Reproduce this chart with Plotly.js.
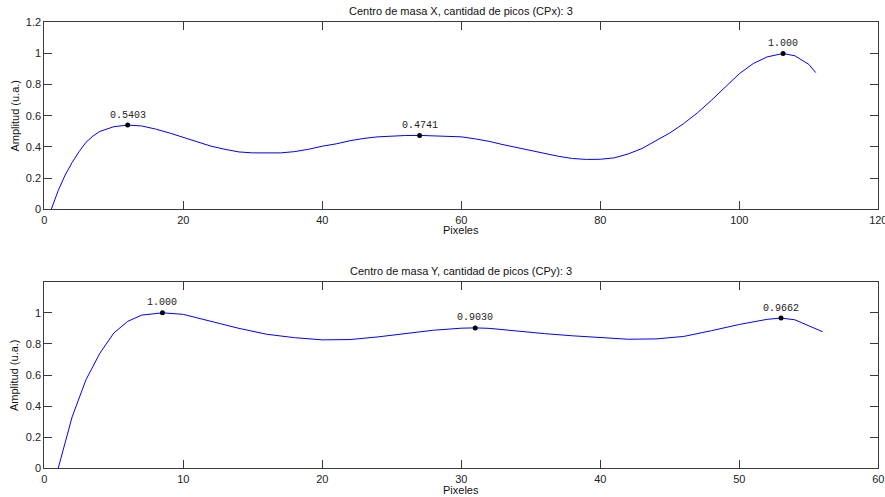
<!DOCTYPE html>
<html>
<head>
<meta charset="utf-8">
<script src="https://cdn.plot.ly/plotly-3.0.1.min.js"></script>
<style>html,body{margin:0;padding:0;background:#fff;}#chart{width:885px;height:497px;}</style>
</head>
<body>
<div id="chart"></div>
<script>
// ---- Data ----
const xTop = [1, 2, 3, 4, 5, 6, 7, 8, 10, 12, 14, 16, 18, 20, 22, 24, 26, 28, 30, 32, 34, 36, 38, 40, 42, 44, 46, 48, 50, 52, 54, 56, 58, 60, 62, 64, 66, 68, 70, 72, 74, 76, 78, 80, 82, 84, 86, 88, 90, 92, 94, 96, 98, 100, 102, 104, 106.3, 108, 110, 111];
const yTop = [0, 0.12, 0.22, 0.30, 0.37, 0.43, 0.47, 0.50, 0.53, 0.5403, 0.535, 0.515, 0.49, 0.46, 0.43, 0.405, 0.385, 0.368, 0.362, 0.36, 0.362, 0.37, 0.385, 0.405, 0.42, 0.44, 0.455, 0.465, 0.47, 0.4735, 0.4741, 0.472, 0.47, 0.465, 0.452, 0.436, 0.415, 0.396, 0.376, 0.357, 0.34, 0.326, 0.32, 0.321, 0.33, 0.355, 0.39, 0.44, 0.49, 0.55, 0.62, 0.70, 0.785, 0.87, 0.935, 0.978, 1.0, 0.985, 0.93, 0.877];
const peakXTop = [12, 54, 106.3];
const peakYTop = [0.5403, 0.4741, 1.000];
const peakLblTop = ["0.5403", "0.4741", "1.000"];

const xBot = [1, 2, 3, 4, 5, 6, 7, 8, 8.5, 10, 12, 14, 16, 18, 20, 22, 24, 26, 28, 30, 31, 32, 34, 36, 38, 40, 42, 44, 46, 48, 50, 52, 53, 54, 55, 56];
const yBot = [0, 0.33, 0.57, 0.74, 0.87, 0.945, 0.985, 0.998, 1.0, 0.99, 0.945, 0.9, 0.862, 0.84, 0.826, 0.828, 0.845, 0.868, 0.888, 0.901, 0.903, 0.9, 0.882, 0.866, 0.852, 0.84, 0.83, 0.832, 0.848, 0.885, 0.925, 0.958, 0.9662, 0.955, 0.918, 0.878];
const peakXBot = [8.5, 31, 53];
const peakYBot = [1.000, 0.9030, 0.9662];
const peakLblBot = ["1.000", "0.9030", "0.9662"];

const titleTop = "Centro de masa X, cantidad de picos (CPx): 3";
const titleBot = "Centro de masa Y, cantidad de picos (CPy): 3";
const xLabel = "Pixeles";
const yLabel = "Amplitud (u.a.)";
const yTicksTop = [0, 0.2, 0.4, 0.6, 0.8, 1, 1.2];
const yTicksBot = [0, 0.2, 0.4, 0.6, 0.8, 1];
const xTicksTop = [0, 20, 40, 60, 80, 100, 120];
const xTicksBot = [0, 10, 20, 30, 40, 50, 60];

// ---- Styling ----
const FONT = "Liberation Sans, Arial, sans-serif";
const MONO = "Liberation Mono, Courier New, monospace";
const axisCol = "#3a3a3a";

function axisBase(extra) {
  return Object.assign({
    showline: true, linecolor: axisCol, linewidth: 1, mirror: "ticks",
    ticks: "inside", ticklen: 8, tickwidth: 1, tickcolor: axisCol,
    showgrid: false, zeroline: false, ticklabeloverflow: "allow",
    tickfont: {family: FONT, size: 11, color: "#222"},
    fixedrange: true
  }, extra);
}

const traces = [
  {x: xTop, y: yTop, type: "scatter", mode: "lines", line: {color: "#0000ff", width: 1}, xaxis: "x", yaxis: "y", hoverinfo: "skip"},
  {x: peakXTop, y: peakYTop, type: "scatter", mode: "markers", marker: {color: "#000", size: 5}, xaxis: "x", yaxis: "y"},
  {x: xBot, y: yBot, type: "scatter", mode: "lines", line: {color: "#0000ff", width: 1}, xaxis: "x2", yaxis: "y2", hoverinfo: "skip"},
  {x: peakXBot, y: peakYBot, type: "scatter", mode: "markers", marker: {color: "#000", size: 5}, xaxis: "x2", yaxis: "y2"}
];

const annotations = [];
peakXTop.forEach((px, i) => annotations.push({x: px, y: peakYTop[i], xref: "x", yref: "y", text: peakLblTop[i], showarrow: false, yshift: 10, font: {family: MONO, size: 10, color: "#222"}}));
peakXBot.forEach((px, i) => annotations.push({x: px, y: peakYBot[i], xref: "x2", yref: "y2", text: peakLblBot[i], showarrow: false, yshift: 10, font: {family: MONO, size: 10, color: "#222"}}));

const tfont = {family: FONT, size: 11, color: "#111"};
annotations.push({text: titleTop, xref: "paper", yref: "paper", x: 0.5213, y: 1 - 11/497, showarrow: false, font: tfont, yanchor: "middle"});
annotations.push({text: titleBot, xref: "paper", yref: "paper", x: 0.5213, y: 1 - 270.5/497, showarrow: false, font: tfont, yanchor: "middle"});
annotations.push({text: xLabel, xref: "paper", yref: "paper", x: 0.5213, y: 1 - 230/497, showarrow: false, font: tfont, yanchor: "middle"});
annotations.push({text: xLabel, xref: "paper", yref: "paper", x: 0.5213, y: 1 - 490/497, showarrow: false, font: tfont, yanchor: "middle"});
annotations.push({text: yLabel, xref: "paper", yref: "paper", x: 14/885, y: 1 - 115.5/497, showarrow: false, font: tfont, textangle: -90, xanchor: "center", yanchor: "middle"});
annotations.push({text: yLabel, xref: "paper", yref: "paper", x: 14/885, y: 1 - 375/497, showarrow: false, font: tfont, textangle: -90, xanchor: "center", yanchor: "middle"});

const layout = {
  width: 885, height: 497,
  margin: {l: 0, r: 0, t: 0, b: 0},
  paper_bgcolor: "#fff", plot_bgcolor: "#fff",
  showlegend: false,
  xaxis: axisBase({domain: [44.3/885, 878.3/885], range: [0, 120], tickvals: xTicksTop, anchor: "y"}),
  yaxis: axisBase({domain: [(497-209.3)/497, (497-22.3)/497], range: [0, 1.2], tickvals: yTicksTop, ticktext: yTicksTop.map(String), anchor: "x"}),
  xaxis2: axisBase({domain: [44.3/885, 878.3/885], range: [0, 60], tickvals: xTicksBot, anchor: "y2"}),
  yaxis2: axisBase({domain: [(497-468.3)/497, (497-281.7)/497], range: [0, 1.2], tickvals: yTicksBot, ticktext: yTicksBot.map(String), anchor: "x2"}),
  annotations: annotations
};

Plotly.newPlot("chart", traces, layout, {displayModeBar: false, staticPlot: true});
</script>
</body>
</html>
